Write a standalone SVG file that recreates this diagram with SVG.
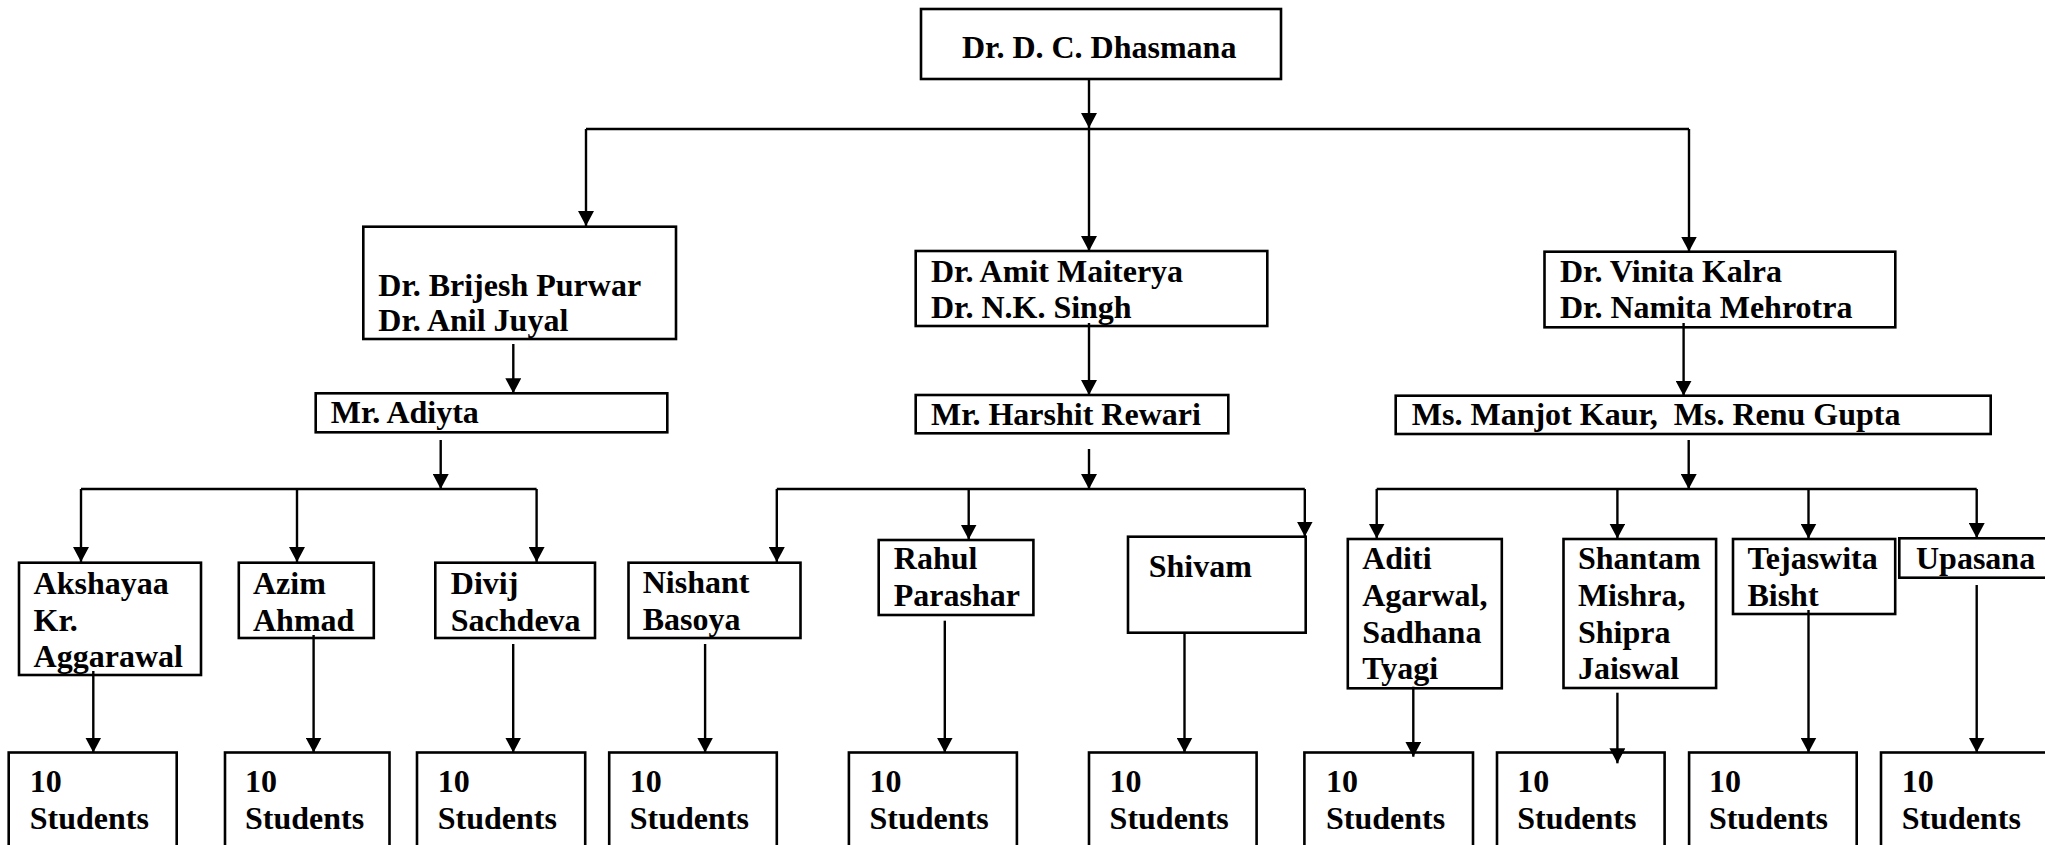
<svg xmlns="http://www.w3.org/2000/svg" width="2045" height="845" viewBox="0 0 2045 845">
<style>
.box{fill:#fff;stroke:#000;stroke-width:2.6}
.t{font-family:"Liberation Serif","Times New Roman",serif;font-weight:bold;font-size:32px;fill:#000}
.c{fill:none;stroke:#000;stroke-width:2.4}
.a{fill:none;stroke:#000;stroke-width:2.4;marker-end:url(#arr)}
</style>
<defs>
<marker id="arr" markerUnits="userSpaceOnUse" markerWidth="16" markerHeight="16" refX="15" refY="8" orient="auto">
<path d="M0,0 L15,8 L0,16 z" fill="#000"/>
</marker>
</defs>
<rect width="2045" height="845" fill="#fff"/>
<g id="n-dhasmana"><rect class="box" x="921" y="9" width="360" height="70"/><text class="t" x="962" y="58">Dr. D. C. Dhasmana</text></g>
<g id="n-brijesh"><rect class="box" x="363.3" y="226.7" width="312.7" height="112.3"/><text class="t" x="378.3" y="295.5">Dr. Brijesh Purwar</text><text class="t" x="378.3" y="330.5">Dr. Anil Juyal</text></g>
<g id="n-amit"><rect class="box" x="915.7" y="251" width="351.6" height="75"/><text class="t" x="931" y="281.7">Dr. Amit Maiterya</text><text class="t" x="931" y="318.3">Dr. N.K. Singh</text></g>
<g id="n-vinita"><rect class="box" x="1544.5" y="251.7" width="350.8" height="75.6"/><text class="t" x="1560" y="281.7">Dr. Vinita Kalra</text><text class="t" x="1560" y="318.3">Dr. Namita Mehrotra</text></g>
<g id="n-adiyta"><rect class="box" x="315.7" y="393.3" width="351.6" height="39"/><text class="t" x="330.7" y="423">Mr. Adiyta</text></g>
<g id="n-harshit"><rect class="box" x="915.7" y="395" width="312.6" height="38.3"/><text class="t" x="931" y="425">Mr. Harshit Rewari</text></g>
<g id="n-manjot"><rect class="box" x="1395.7" y="395.7" width="595" height="38.3"/><text class="t" x="1411.8" y="425" xml:space="preserve">Ms. Manjot Kaur,  Ms. Renu Gupta</text></g>
<g id="n-akshayaa"><rect class="box" x="19" y="562.7" width="182" height="112.3"/><text class="t" x="33.6" y="594">Akshayaa</text><text class="t" x="33.6" y="631">Kr.</text><text class="t" x="33.6" y="667">Aggarawal</text></g>
<g id="n-azim"><rect class="box" x="238.8" y="562.7" width="135" height="75.3"/><text class="t" x="253" y="594">Azim</text><text class="t" x="253" y="631">Ahmad</text></g>
<g id="n-divij"><rect class="box" x="435.3" y="562.7" width="159.7" height="75.3"/><text class="t" x="450.8" y="594">Divij</text><text class="t" x="450.8" y="631">Sachdeva</text></g>
<g id="n-nishant"><rect class="box" x="628.5" y="562.7" width="172" height="75.3"/><text class="t" x="642.7" y="593">Nishant</text><text class="t" x="642.7" y="630">Basoya</text></g>
<g id="n-rahul"><rect class="box" x="878.7" y="540" width="154.7" height="75"/><text class="t" x="893.8" y="569">Rahul</text><text class="t" x="893.8" y="606">Parashar</text></g>
<g id="n-shivam"><rect class="box" x="1128" y="536.7" width="177.7" height="96"/><text class="t" x="1148.7" y="577">Shivam</text></g>
<g id="n-aditi"><rect class="box" x="1347.8" y="539" width="154" height="149.3"/><text class="t" x="1362.2" y="569.3">Aditi</text><text class="t" x="1362.2" y="606">Agarwal,</text><text class="t" x="1362.2" y="642.7">Sadhana</text><text class="t" x="1362.2" y="679.3">Tyagi</text></g>
<g id="n-shantam"><rect class="box" x="1563.5" y="539" width="152.6" height="149"/><text class="t" x="1577.9" y="569.3">Shantam</text><text class="t" x="1577.9" y="606">Mishra,</text><text class="t" x="1577.9" y="642.7">Shipra</text><text class="t" x="1577.9" y="679.3">Jaiswal</text></g>
<g id="n-tejaswita"><rect class="box" x="1733" y="539" width="162.2" height="75"/><text class="t" x="1747.4" y="569">Tejaswita</text><text class="t" x="1747.4" y="606">Bisht</text></g>
<g id="n-upasana"><rect class="box" x="1899.3" y="538.3" width="160" height="39.4"/><text class="t" x="1916" y="569.3">Upasana</text></g>
<g id="n-s1"><rect class="box" x="8.7" y="752.5" width="168" height="120"/><text class="t" x="29.7" y="791.7">10</text><text class="t" x="29.7" y="829">Students</text></g>
<g id="n-s2"><rect class="box" x="225" y="752.5" width="164.5" height="120"/><text class="t" x="245" y="791.7">10</text><text class="t" x="245" y="829">Students</text></g>
<g id="n-s3"><rect class="box" x="417" y="752.5" width="168.2" height="120"/><text class="t" x="437.7" y="791.7">10</text><text class="t" x="437.7" y="829">Students</text></g>
<g id="n-s4"><rect class="box" x="609.2" y="752.5" width="167.6" height="120"/><text class="t" x="629.8" y="791.7">10</text><text class="t" x="629.8" y="829">Students</text></g>
<g id="n-s5"><rect class="box" x="848.9" y="752.5" width="168" height="120"/><text class="t" x="869.5" y="791.7">10</text><text class="t" x="869.5" y="829">Students</text></g>
<g id="n-s6"><rect class="box" x="1089" y="752.5" width="167.6" height="120"/><text class="t" x="1109.6" y="791.7">10</text><text class="t" x="1109.6" y="829">Students</text></g>
<g id="n-s7"><rect class="box" x="1304.4" y="752.5" width="168.6" height="120"/><text class="t" x="1326" y="791.7">10</text><text class="t" x="1326" y="829">Students</text></g>
<g id="n-s8"><rect class="box" x="1497" y="752.5" width="167.6" height="120"/><text class="t" x="1517.2" y="791.7">10</text><text class="t" x="1517.2" y="829">Students</text></g>
<g id="n-s9"><rect class="box" x="1689.1" y="752.5" width="167.6" height="120"/><text class="t" x="1708.9" y="791.7">10</text><text class="t" x="1708.9" y="829">Students</text></g>
<g id="n-s10"><rect class="box" x="1881" y="752.5" width="180" height="120"/><text class="t" x="1901.7" y="791.7">10</text><text class="t" x="1901.7" y="829">Students</text></g>
<g id="connectors">
<path class="a" d="M1089,79 V128"/>
<path class="c" d="M586,129 H1689"/>
<path class="a" d="M586,129 V226"/>
<path class="a" d="M1089,129 V251"/>
<path class="a" d="M1689,129 V251.5"/>
<path class="a" d="M513.3,344 V393.3"/>
<path class="a" d="M1089,323 V395"/>
<path class="a" d="M1683.6,323 V395.7"/>
<path class="a" d="M440.7,440 V489"/>
<path class="a" d="M1089,449 V489"/>
<path class="a" d="M1688.7,440 V489"/>
<path class="c" d="M81,489 H536.6"/>
<path class="a" d="M81,489 V562"/>
<path class="a" d="M297,489 V562"/>
<path class="a" d="M536.6,489 V562"/>
<path class="c" d="M776.8,489 H1304.8"/>
<path class="a" d="M776.8,489 V562"/>
<path class="a" d="M968.7,489 V539.5"/>
<path class="a" d="M1304.8,489 V536.5"/>
<path class="c" d="M1376.7,489 H1976.7"/>
<path class="a" d="M1376.7,489 V538.5"/>
<path class="a" d="M1617.4,489 V538.5"/>
<path class="a" d="M1808.5,489 V538.5"/>
<path class="a" d="M1976.7,489 V538"/>
<path class="a" d="M93.3,671 V752.5"/>
<path class="a" d="M313.6,635 V752.5"/>
<path class="a" d="M513.2,644 V752.5"/>
<path class="a" d="M705.1,644 V752.5"/>
<path class="a" d="M944.8,620.7 V752.5"/>
<path class="a" d="M1184.5,632.7 V752.5"/>
<path class="a" d="M1413.3,686.7 V756.7"/>
<path class="a" d="M1617.4,692.7 V763.3"/>
<path class="a" d="M1808.5,610 V752.5"/>
<path class="a" d="M1976.7,585 V752.5"/>
</g>
</svg>
